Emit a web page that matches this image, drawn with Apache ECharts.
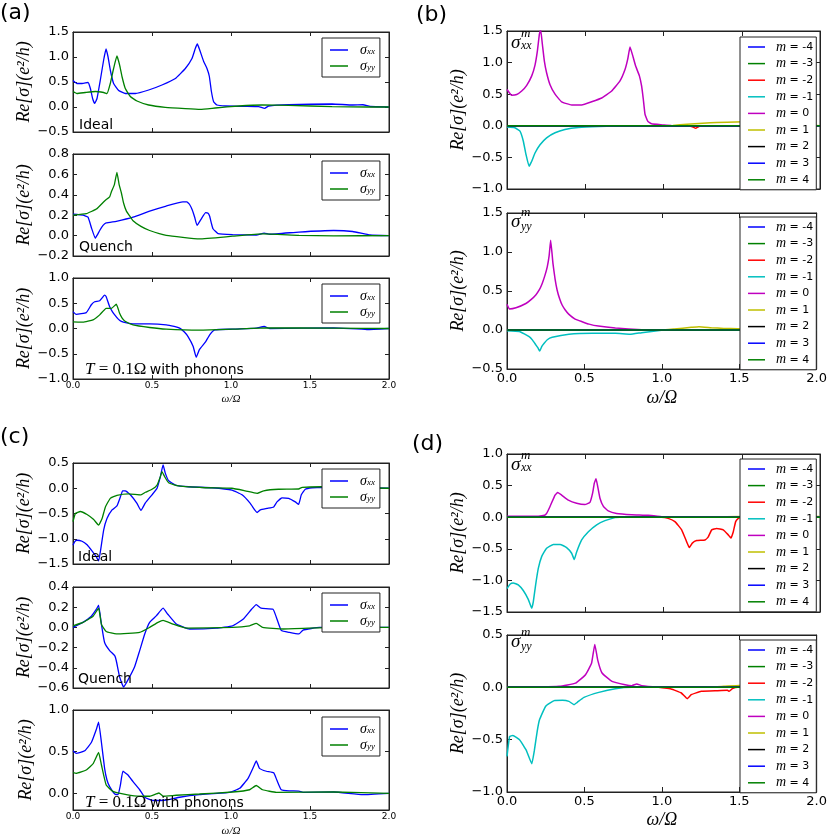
<!DOCTYPE html>
<html><head><meta charset="utf-8">
<script src="https://cdn.jsdelivr.net/npm/echarts@6/dist/echarts.min.js"></script>
<style>html,body{margin:0;padding:0;background:#fff}#c{width:830px;height:838px}</style>
</head><body><div id="c"></div><script>
// ---------------- data ----------------
const xTicks = [0, 0.5, 1.0, 1.5, 2.0];
const mNames = ['m = -4','m = -3','m = -2','m = -1','m = 0','m = 1','m = 2','m = 3','m = 4'];
const sigNames = ['σxx','σyy'];
const panelLabels = ['(a)','(b)','(c)','(d)'];
const noteLabels = ['Ideal','Quench','with phonons'];
const yName = 'Re[σ](e²/h)';
const xName = 'ω/Ω';
const zeroLine = [[0,0],[2,0]];

// (a)
const aIdealXX = [[0,0.53],[0.025,0.47],[0.057,0.47],[0.095,0.49],[0.11,0.37],[0.124,0.17],[0.137,0.073],[0.152,0.17],[0.173,0.54],[0.194,0.94],[0.209,1.16],[0.222,1.0],[0.236,0.74],[0.257,0.47],[0.289,0.33],[0.331,0.27],[0.395,0.27],[0.479,0.34],[0.563,0.44],[0.648,0.57],[0.711,0.77],[0.753,0.97],[0.774,1.17],[0.787,1.26],[0.802,1.14],[0.827,0.91],[0.848,0.77],[0.863,0.61],[0.876,0.31],[0.89,0.107],[0.911,0.04],[0.964,0.02],[1.09,0.013],[1.175,0.007],[1.213,-0.027],[1.238,0.02],[1.365,0.047],[1.64,0.06],[1.77,0.04],[1.835,0.045],[1.88,0.01],[2.0,0]];
const aIdealYY = [[0,0.31],[0.025,0.27],[0.078,0.29],[0.141,0.31],[0.194,0.29],[0.215,0.27],[0.236,0.47],[0.257,0.77],[0.278,1.02],[0.295,0.84],[0.31,0.61],[0.331,0.37],[0.363,0.21],[0.405,0.12],[0.479,0.04],[0.584,-0.007],[0.711,-0.033],[0.806,-0.047],[0.9,-0.02],[1.05,0.02],[1.196,0.04],[1.365,0.033],[1.64,0.007],[1.86,0],[2.0,0]];
const aQuenchXX = [[0,0.21],[0.063,0.2],[0.095,0.18],[0.116,0.08],[0.141,-0.025],[0.155,0.01],[0.169,0.05],[0.19,0.1],[0.21,0.124],[0.274,0.14],[0.38,0.18],[0.485,0.24],[0.59,0.29],[0.696,0.33],[0.72,0.33],[0.738,0.305],[0.755,0.25],[0.77,0.18],[0.785,0.1],[0.81,0.16],[0.84,0.225],[0.855,0.22],[0.865,0.19],[0.876,0.12],[0.886,0.067],[0.918,0.02],[1.01,0.01],[1.16,0.006],[1.21,0.025],[1.245,0.013],[1.43,0.035],[1.65,0.05],[1.77,0.04],[1.88,0.006],[2.0,0]];
const aQuenchYY = [[0,0.2],[0.084,0.215],[0.148,0.26],[0.2,0.34],[0.232,0.38],[0.243,0.43],[0.262,0.5],[0.278,0.62],[0.292,0.5],[0.306,0.42],[0.32,0.32],[0.338,0.24],[0.36,0.19],[0.38,0.146],[0.43,0.09],[0.485,0.05],[0.59,0.003],[0.8,-0.032],[1.01,-0.006],[1.2,0.016],[1.43,0.003],[1.65,-0.003],[2.0,0]];
const aPhononXX = [[0,0.335],[0.02,0.28],[0.084,0.315],[0.116,0.47],[0.137,0.53],[0.169,0.55],[0.2,0.66],[0.21,0.63],[0.232,0.43],[0.25,0.33],[0.264,0.27],[0.285,0.19],[0.306,0.14],[0.34,0.11],[0.38,0.09],[0.485,0.09],[0.59,0.072],[0.64,0.04],[0.675,0.007],[0.705,-0.07],[0.728,-0.16],[0.76,-0.35],[0.78,-0.57],[0.8,-0.42],[0.84,-0.26],[0.865,-0.125],[0.897,-0.026],[1.01,-0.013],[1.16,0.007],[1.21,0.04],[1.245,0],[1.65,0.013],[1.86,-0.02],[2.0,0]];
const aPhononYY = [[0,0.13],[0.063,0.125],[0.127,0.17],[0.169,0.27],[0.21,0.4],[0.243,0.4],[0.274,0.48],[0.295,0.3],[0.31,0.21],[0.327,0.15],[0.38,0.072],[0.485,0.02],[0.59,-0.013],[0.8,-0.033],[1.01,-0.013],[1.22,0.013],[1.65,0.007],[2.0,0]];

// (b)
const bXXm0 = [[0,0.575],[0.03,0.485],[0.062,0.496],[0.094,0.55],[0.126,0.64],[0.158,0.79],[0.179,0.96],[0.194,1.18],[0.207,1.45],[0.215,1.52],[0.226,1.29],[0.239,1.02],[0.253,0.84],[0.275,0.65],[0.307,0.5],[0.349,0.38],[0.413,0.33],[0.477,0.33],[0.541,0.38],[0.605,0.44],[0.669,0.55],[0.722,0.71],[0.754,0.89],[0.771,1.05],[0.786,1.245],[0.801,1.13],[0.822,0.945],[0.846,0.79],[0.86,0.63],[0.871,0.42],[0.882,0.18],[0.899,0.074],[0.924,0.032],[0.988,0.016],[1.05,0.005],[1.1,0],[2.0,0]];
const bXXm1n = [[0,-0.02],[0.05,-0.03],[0.083,-0.085],[0.104,-0.24],[0.121,-0.45],[0.141,-0.64],[0.158,-0.56],[0.179,-0.43],[0.211,-0.3],[0.253,-0.19],[0.307,-0.11],[0.37,-0.058],[0.456,-0.026],[0.584,-0.01],[0.69,-0.005],[0.75,0],[2.0,0]];
const bXXm2n = [[0,0],[1.15,0],[1.185,-0.015],[1.206,-0.04],[1.22,-0.02],[1.24,0],[2.0,0]];
const bXXm1 = [[0,0],[1.0,0],[1.06,0.005],[1.15,0.026],[1.3,0.047],[1.52,0.063],[1.7,0.06],[1.9,0.02],[2.0,0.0]];
const bYYm0 = [[0,0.33],[0.015,0.27],[0.058,0.285],[0.122,0.34],[0.155,0.39],[0.186,0.45],[0.21,0.52],[0.228,0.6],[0.245,0.7],[0.26,0.81],[0.272,0.95],[0.282,1.15],[0.297,0.85],[0.31,0.66],[0.324,0.51],[0.34,0.4],[0.356,0.32],[0.375,0.26],[0.4,0.2],[0.44,0.14],[0.485,0.106],[0.53,0.075],[0.59,0.05],[0.7,0.026],[0.87,0.004],[1.0,0],[2.0,0]];
const bYYm1n = [[0,-0.01],[0.08,-0.02],[0.143,-0.085],[0.165,-0.13],[0.186,-0.19],[0.2,-0.23],[0.211,-0.27],[0.225,-0.21],[0.24,-0.17],[0.26,-0.125],[0.292,-0.094],[0.4,-0.055],[0.55,-0.043],[0.7,-0.043],[0.794,-0.055],[0.87,-0.034],[0.997,-0.004],[1.05,0],[2.0,0]];
const bYYm1 = [[0,0],[1.0,0],[1.08,0.013],[1.19,0.034],[1.24,0.043],[1.32,0.03],[1.4,0.02],[1.49,0.017],[1.7,0.01],[2.0,0]];

// (c)
const cIdealXX = [[0,-1.13],[0.01,-1.06],[0.025,-1.03],[0.057,-1.05],[0.089,-1.12],[0.12,-1.24],[0.146,-1.35],[0.162,-1.44],[0.175,-1.22],[0.194,-0.83],[0.215,-0.6],[0.247,-0.43],[0.278,-0.35],[0.3,-0.17],[0.314,-0.05],[0.331,-0.05],[0.363,-0.13],[0.405,-0.3],[0.43,-0.44],[0.458,-0.29],[0.5,-0.13],[0.532,0.0],[0.553,0.23],[0.57,0.46],[0.584,0.3],[0.605,0.15],[0.648,0.064],[0.732,0.03],[0.88,0.01],[1.006,-0.035],[1.07,-0.13],[1.122,-0.3],[1.15,-0.43],[1.165,-0.48],[1.186,-0.43],[1.228,-0.4],[1.27,-0.37],[1.291,-0.27],[1.323,-0.19],[1.365,-0.2],[1.407,-0.27],[1.428,-0.32],[1.445,-0.13],[1.47,-0.02],[1.513,0.01],[1.576,0.018],[1.8,0.01],[2.0,0]];
const cIdealYY = [[0,-0.66],[0.015,-0.5],[0.046,-0.46],[0.089,-0.52],[0.131,-0.62],[0.162,-0.73],[0.184,-0.6],[0.205,-0.37],[0.236,-0.2],[0.278,-0.14],[0.352,-0.11],[0.43,-0.13],[0.458,-0.08],[0.5,-0.02],[0.532,0.064],[0.553,0.23],[0.563,0.33],[0.58,0.23],[0.605,0.11],[0.669,0.045],[0.838,0.01],[1.006,0],[1.09,-0.05],[1.165,-0.1],[1.207,-0.05],[1.3,-0.02],[1.428,-0.015],[1.45,0.018],[1.576,0.03],[1.8,0.01],[2.0,0]];
const cQuenchXX = [[0,0],[0.063,0.05],[0.116,0.11],[0.148,0.18],[0.162,0.22],[0.18,0.03],[0.2,-0.15],[0.232,-0.23],[0.264,-0.28],[0.274,-0.33],[0.295,-0.49],[0.32,-0.59],[0.348,-0.52],[0.39,-0.39],[0.422,-0.23],[0.454,-0.065],[0.485,0.05],[0.527,0.114],[0.57,0.19],[0.6,0.13],[0.654,0.033],[0.738,-0.016],[0.907,-0.007],[1.01,0.016],[1.076,0.08],[1.13,0.18],[1.16,0.226],[1.19,0.19],[1.266,0.18],[1.287,0.1],[1.318,-0.03],[1.37,-0.05],[1.43,-0.065],[1.456,-0.026],[1.56,0],[2.0,0]];
const cQuenchYY = [[0,0.016],[0.063,0.05],[0.127,0.11],[0.162,0.19],[0.18,0.03],[0.21,-0.04],[0.274,-0.065],[0.422,-0.05],[0.485,0],[0.538,0.05],[0.57,0.07],[0.633,0.033],[0.717,-0.007],[1.01,0],[1.118,0.016],[1.16,0.04],[1.2,0],[1.33,-0.016],[1.65,0],[2.0,0]];
const cPhononXX = [[0,0.51],[0.02,0.48],[0.074,0.51],[0.116,0.61],[0.148,0.77],[0.162,0.855],[0.18,0.61],[0.2,0.3],[0.215,0.16],[0.232,0.08],[0.264,-0.008],[0.285,-0.016],[0.3,0.1],[0.316,0.265],[0.348,0.22],[0.38,0.14],[0.422,0.043],[0.454,-0.047],[0.506,-0.086],[0.59,-0.08],[0.675,-0.047],[0.8,-0.016],[0.99,0.012],[1.055,0.06],[1.108,0.18],[1.143,0.32],[1.16,0.39],[1.18,0.3],[1.224,0.265],[1.27,0.246],[1.29,0.16],[1.318,0.043],[1.37,0.03],[1.43,0.027],[1.456,0.012],[1.65,0.016],[1.835,-0.016],[2.0,0]];
const cPhononYY = [[0,0.25],[0.02,0.24],[0.084,0.28],[0.127,0.355],[0.162,0.49],[0.18,0.34],[0.21,0.1],[0.253,0.023],[0.338,-0.016],[0.422,-0.035],[0.485,-0.035],[0.544,0.004],[0.57,-0.035],[0.654,-0.023],[0.8,-0.008],[1.01,0.016],[1.118,0.043],[1.16,0.094],[1.2,0.043],[1.287,0.012],[1.65,0.016],[2.0,0]];

// (d)
const dXXm0 = [[0,0.014],[0.2,0.016],[0.24,0.03],[0.253,0.06],[0.275,0.17],[0.307,0.35],[0.324,0.39],[0.349,0.35],[0.392,0.27],[0.445,0.22],[0.498,0.2],[0.53,0.235],[0.547,0.38],[0.558,0.54],[0.569,0.61],[0.58,0.48],[0.594,0.3],[0.616,0.17],[0.647,0.1],[0.7,0.06],[0.797,0.04],[0.903,0.03],[0.988,0.008],[1.03,0],[2.0,0]];
const dXXm1n = [[0,-1.13],[0.019,-1.06],[0.04,-1.04],[0.072,-1.07],[0.104,-1.16],[0.136,-1.3],[0.158,-1.44],[0.168,-1.34],[0.183,-1.07],[0.2,-0.81],[0.222,-0.62],[0.253,-0.49],[0.296,-0.43],[0.339,-0.43],[0.381,-0.48],[0.413,-0.57],[0.43,-0.67],[0.445,-0.55],[0.477,-0.36],[0.52,-0.23],[0.573,-0.12],[0.626,-0.055],[0.69,-0.007],[0.722,0],[2.0,0]];
const dXXm2n = [[0,0],[0.988,0],[1.03,-0.018],[1.073,-0.07],[1.116,-0.2],[1.148,-0.39],[1.165,-0.48],[1.184,-0.41],[1.212,-0.37],[1.265,-0.36],[1.286,-0.31],[1.308,-0.2],[1.34,-0.18],[1.382,-0.2],[1.414,-0.28],[1.431,-0.33],[1.446,-0.23],[1.461,-0.07],[1.478,-0.018],[1.5,0],[2.0,0]];
const dXXm1 = [[0,0],[1.2,0],[1.4,0.008],[1.6,0.012],[2.0,0.012]];
const dYYm0 = [[0,0],[0.166,0.003],[0.337,0.01],[0.443,0.04],[0.507,0.12],[0.546,0.23],[0.567,0.41],[0.586,0.26],[0.614,0.137],[0.678,0.057],[0.763,0.025],[0.806,0.016],[0.838,0.032],[0.87,0.016],[0.977,0.003],[1.05,0],[2.0,0]];
const dYYm1n = [[0,-0.66],[0.017,-0.47],[0.038,-0.46],[0.081,-0.5],[0.124,-0.6],[0.16,-0.73],[0.177,-0.6],[0.195,-0.42],[0.21,-0.31],[0.25,-0.18],[0.305,-0.127],[0.358,-0.124],[0.4,-0.134],[0.433,-0.166],[0.454,-0.143],[0.497,-0.096],[0.593,-0.048],[0.7,-0.013],[0.806,0],[2.0,0]];
const dYYm2n = [[0,0],[0.977,0],[1.06,-0.016],[1.126,-0.054],[1.164,-0.108],[1.19,-0.07],[1.254,-0.038],[1.36,-0.032],[1.424,-0.029],[1.435,-0.038],[1.456,-0.013],[1.49,0],[2.0,0]];
const dYYm1 = [[0,0],[1.25,0],[1.4,0.01],[1.5,0.018],[1.7,0.02],[2.0,0.015]];

// y tick values per panel
const yTicksA1 = [-0.5,0,0.5,1.0,1.5];
const yTicksA2 = [-0.2,0,0.2,0.4,0.6,0.8];
const yTicksA3 = [-1.0,-0.5,0,0.5,1.0];
const yTicksB1 = [-1.0,-0.5,0,0.5,1.0,1.5];
const yTicksB2 = [-0.5,0,0.5,1.0,1.5];
const yTicksC1 = [-1.5,-1.0,-0.5,0,0.5];
const yTicksC2 = [-0.6,-0.4,-0.2,0,0.2,0.4];
const yTicksC3 = [0,0.5,1.0];
const yTicksD1 = [-1.5,-1.0,-0.5,0,0.5,1.0];
const yTicksD2 = [-1.0,-0.5,0,0.5];

// ---------------- styling / layout ----------------
const SERIF = "'Liberation Serif','DejaVu Serif',serif";
const SANS = "'DejaVu Sans',sans-serif";
const mColors = ['#0000ff','#008000','#ff0000','#00bfbf','#bf00bf','#bfbf00','#000000','#0000ff','#008000'];
const sigColors = ['#0000ff','#008000'];
const fmt = v => { const r = Math.round(v*10)/10; return (r < 0 ? '\u2212' : '') + Math.abs(r).toFixed(1); };

const panels = [
  {l:73, t:32, w:316, h:100, min:-0.5, max:1.5, step:0.5, yt:yTicksA1, xl:0, kind:'s', data:[aIdealXX,aIdealYY], lg:[322,38]},
  {l:73, t:154, w:316, h:102, min:-0.2, max:0.8, step:0.2, yt:yTicksA2, xl:0, kind:'s', data:[aQuenchXX,aQuenchYY], lg:[322,161]},
  {l:73, t:278, w:316, h:101, min:-1.0, max:1.0, step:0.5, yt:yTicksA3, xl:1, kind:'s', data:[aPhononXX,aPhononYY], lg:[322,284], ng:15},
  {l:507, t:31, w:313, h:158, min:-1.0, max:1.5, step:0.5, yt:yTicksB1, xl:0, kind:'m', data:[zeroLine,zeroLine,bXXm2n,bXXm1n,bXXm0,bXXm1,zeroLine,zeroLine,zeroLine], lg:[740,37]},
  {l:507, t:213, w:313, h:156, min:-0.5, max:1.5, step:0.5, yt:yTicksB2, xl:2, kind:'m', data:[zeroLine,zeroLine,zeroLine,bYYm1n,bYYm0,bYYm1,zeroLine,zeroLine,zeroLine], lg:[740,217], ng:20},
  {l:73, t:463, w:316, h:101, min:-1.5, max:0.5, step:0.5, yt:yTicksC1, xl:0, kind:'s', data:[cIdealXX,cIdealYY], lg:[322,469]},
  {l:73, t:587, w:316, h:101, min:-0.6, max:0.4, step:0.2, yt:yTicksC2, xl:0, kind:'s', data:[cQuenchXX,cQuenchYY], lg:[322,593]},
  {l:73, t:710, w:316, h:102, min:-0.2, max:1.0, step:0.1, yt:yTicksC3, xl:1, kind:'s', data:[cPhononXX,cPhononYY], lg:[322,717], ng:16},
  {l:507, t:454, w:313, h:158, min:-1.5, max:1.0, step:0.5, yt:yTicksD1, xl:0, kind:'m', data:[zeroLine,zeroLine,dXXm2n,dXXm1n,dXXm0,dXXm1,zeroLine,zeroLine,zeroLine], lg:[740,459]},
  {l:507, t:635, w:313, h:157, min:-1.0, max:0.5, step:0.5, yt:yTicksD2, xl:2, kind:'m', data:[zeroLine,zeroLine,dYYm2n,dYYm1n,dYYm0,dYYm1,zeroLine,zeroLine,zeroLine], lg:[740,640], ng:19}
];

const grid = [], xAxis = [], yAxis = [], series = [], legend = [];
panels.forEach((p, i) => {
  grid.push({left:p.l, top:p.t, width:p.w, height:p.h, show:true, borderColor:'#222', borderWidth:1, backgroundColor:'transparent'});
  const big = p.kind === 'm';
  const tick = {show:true, inside:true, length:big?5:4, lineStyle:{color:'#222', width:1}};
  xAxis.push({
    type:'value', gridIndex:i, min:0, max:2, interval:0.5, position:'bottom',
    axisLine:{show:true, onZero:false, lineStyle:{color:'#222'}}, axisTick:tick, splitLine:{show:false},
    axisLabel:{show:p.xl>0, customValues:xTicks, fontFamily:SANS, fontSize:p.xl===2?13:9, color:'#000', margin:p.xl===2?3:2, formatter:fmt},
    name:p.xl>0?xName:'', nameLocation:'middle', nameGap:p.ng || 16,
    nameTextStyle:{fontFamily:SERIF, fontStyle:'italic', fontSize:p.xl===2?18:11, color:'#000'}
  });
  yAxis.push({
    type:'value', gridIndex:i, min:p.min, max:p.max, interval:p.step, position:'left',
    axisLine:{show:true, onZero:false, lineStyle:{color:'#222'}},
    axisTick:Object.assign({customValues:p.yt}, tick), splitLine:{show:false},
    axisLabel:{customValues:p.yt, fontFamily:SANS, fontSize:13, color:'#000', margin:4, formatter:fmt},
    name:yName, nameLocation:'middle', nameGap:big?39:38, nameRotate:90,
    nameTextStyle:{fontFamily:SERIF, fontStyle:'italic', fontSize:18, color:'#000'}
  });
  p.data.forEach((d, k) => {
    const name = p.kind === 'm' ? mNames[k] : sigNames[k];
    const color = p.kind === 'm' ? mColors[k] : sigColors[k];
    series.push({type:'line', name, xAxisIndex:i, yAxisIndex:i, data:d, color,
      showSymbol:false, symbol:'none', animation:false, silent:true, smooth:0.12,
      lineStyle:{width:big?1.5:1.3, color}});
  });
  if (p.kind === 's') {
    legend.push({orient:'vertical', left:p.lg[0], top:p.lg[1], data:sigNames, selectedMode:false,
      icon:'rect', itemWidth:18, itemHeight:1.5, itemGap:2, padding:[5,5,4,8],
      borderColor:'#222', borderWidth:1, backgroundColor:'#fff',
      formatter:n => '{g|}{s|σ}{b|' + n.slice(1) + '}',
      textStyle:{color:'#000', lineHeight:13, rich:{
        g:{width:7, lineHeight:13},
        s:{fontFamily:SERIF, fontStyle:'italic', fontSize:14, lineHeight:13},
        b:{fontFamily:SERIF, fontStyle:'italic', fontSize:9, lineHeight:13, verticalAlign:'bottom'}}}});
  } else {
    legend.push({orient:'vertical', left:p.lg[0], top:p.lg[1], data:mNames, selectedMode:false,
      icon:'rect', itemWidth:17, itemHeight:1.5, itemGap:2.6, padding:[3,3,3,8],
      borderColor:'#222', borderWidth:1, backgroundColor:'#fff',
      formatter:n => '{g|}{i|m}{t|' + n.slice(1) + '}',
      textStyle:{color:'#000', lineHeight:14, fontSize:11, rich:{
        g:{width:6, lineHeight:14, fontSize:11},
        i:{fontFamily:SERIF, fontStyle:'italic', fontSize:14, lineHeight:14},
        t:{fontFamily:SANS, fontSize:11, lineHeight:14}}}});
  }
});
// mirror axes (ticks on top and right, as in the original frame)
panels.forEach((p, i) => {
  const big = p.kind === 'm';
  const tick = {show:true, inside:true, length:big?5:4, lineStyle:{color:'#222', width:1}};
  xAxis.push({type:'value', gridIndex:i, min:0, max:2, interval:0.5, position:'top',
    axisLine:{show:true, onZero:false, lineStyle:{color:'#222'}}, axisTick:tick,
    axisLabel:{show:false}, splitLine:{show:false}});
  yAxis.push({type:'value', gridIndex:i, min:p.min, max:p.max, interval:p.step, position:'right',
    axisLine:{show:true, onZero:false, lineStyle:{color:'#222'}},
    axisTick:Object.assign({customValues:p.yt}, tick),
    axisLabel:{show:false, customValues:p.yt}, splitLine:{show:false}});
});

function txt(x, y, text, font) {
  return {type:'text', x, y, silent:true, z:100,
    style:{text, font, fill:'#000', textVerticalAlign:'middle', verticalAlign:'middle'}};
}
function phononNote(x, y) {
  return {type:'text', x, y, silent:true, z:100,
    style:{text:'{i|T}{r| = 0.1Ω} {s|' + noteLabels[2] + '}', fill:'#000', verticalAlign:'middle', textVerticalAlign:'middle',
      rich:{i:{fontFamily:SERIF, fontStyle:'italic', fontSize:17},
            r:{fontFamily:SERIF, fontSize:17},
            s:{fontFamily:SANS, fontSize:14}}}};
}
function sigLabel(x, y, sub) {
  return [txt(x, y, 'σ', 'italic 19px ' + SERIF), txt(x + 10, y - 9, 'm', 'italic 13px ' + SERIF),
          txt(x + 10, y + (sub === 'yy' ? 5 : 3), sub, 'italic 12px ' + SERIF)];
}
const graphic = [
  txt(0, 13, panelLabels[0], '22px ' + SANS),
  txt(416, 15, panelLabels[1], '22px ' + SANS),
  txt(0, 437, panelLabels[2], '22px ' + SANS),
  txt(412, 444, panelLabels[3], '22px ' + SANS),
  txt(79, 125, noteLabels[0], '14px ' + SANS),
  txt(79, 247, noteLabels[1], '14px ' + SANS),
  phononNote(85, 370),
  txt(78, 557, noteLabels[0], '14px ' + SANS),
  txt(78, 679, noteLabels[1], '14px ' + SANS),
  phononNote(85, 803),
  ...sigLabel(511, 43, 'xx'),
  ...sigLabel(511, 222, 'yy'),
  ...sigLabel(511, 465, 'xx'),
  ...sigLabel(511, 642, 'yy')
];

const chart = echarts.init(document.getElementById('c'), null, {renderer:'canvas'});
chart.setOption({animation:false, backgroundColor:'#fff', grid, xAxis, yAxis, series, legend, graphic});
</script></body></html>
